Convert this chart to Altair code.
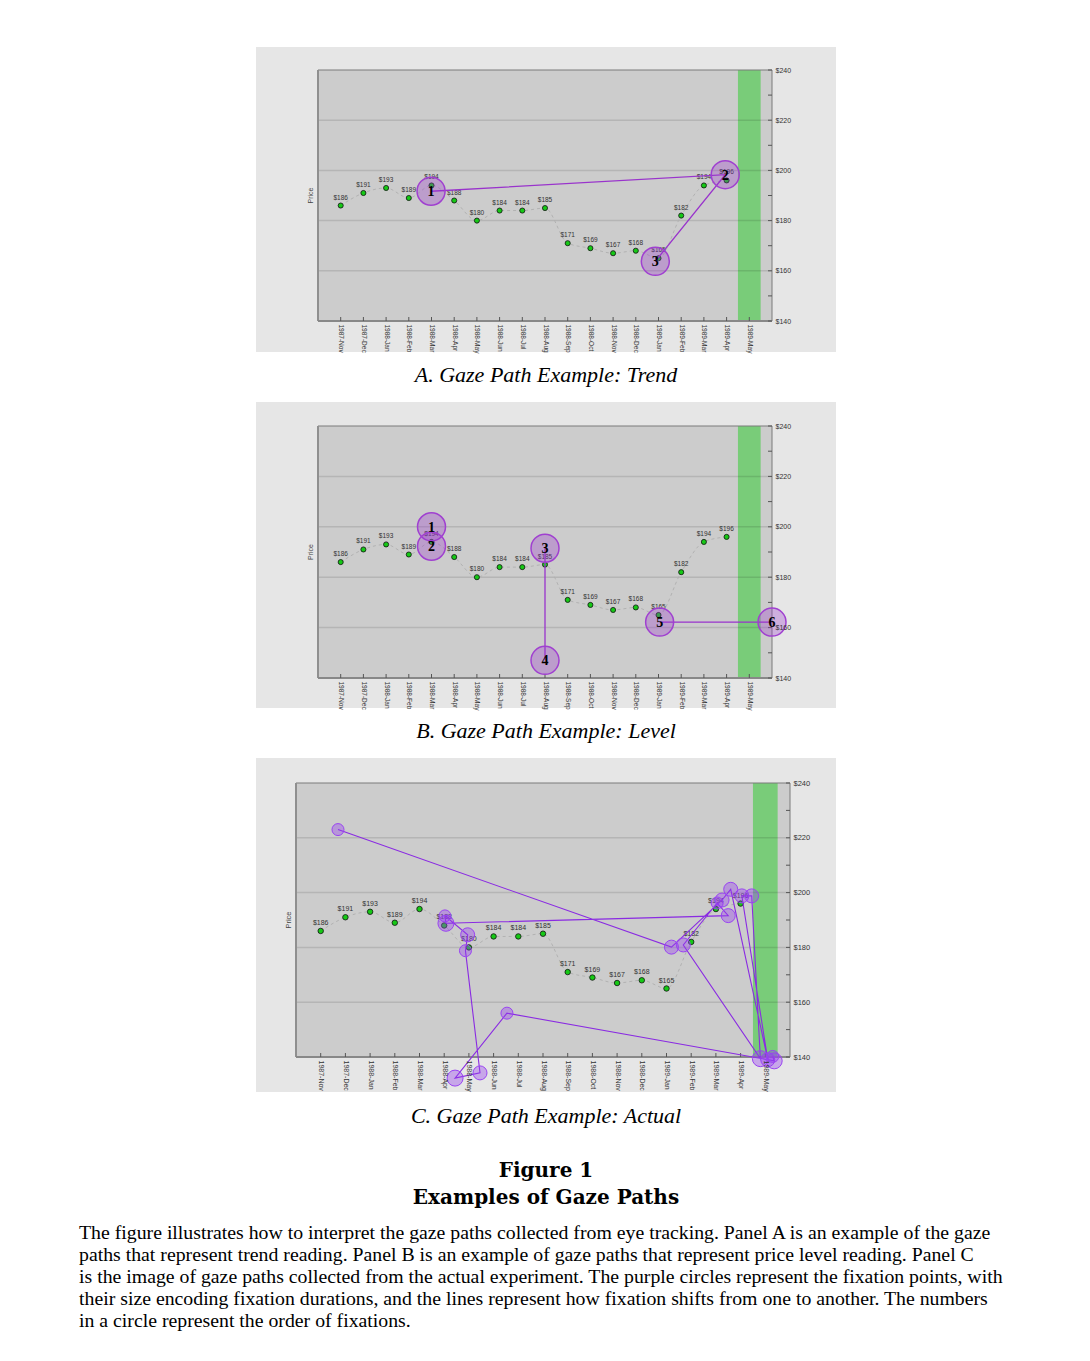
import altair as alt
import pandas as pd

# ---- price series shown in every panel ----
MONTHS = ["1987-Nov", "1987-Dec", "1988-Jan", "1988-Feb", "1988-Mar", "1988-Apr",
          "1988-May", "1988-Jun", "1988-Jul", "1988-Aug", "1988-Sep", "1988-Oct",
          "1988-Nov", "1988-Dec", "1989-Jan", "1989-Feb", "1989-Mar", "1989-Apr",
          "1989-May"]
PRICES = [186, 191, 193, 189, 194, 188, 180, 184, 184, 185, 171, 169, 167, 168,
          165, 182, 194, 196]
GRID_PRICES = [160, 180, 200, 220]
LABEL_PRICES = [140, 160, 180, 200, 220, 240]
TICK_PRICES = [140, 150, 160, 170, 180, 190, 200, 210, 220, 230, 240]
FORECAST_MONTH = 18  # 1989-May, highlighted band

# ---- fixations: month position, price level, radius (px) ----
A_X = [3.98, 16.94, 13.86]
A_Y = [191.7, 198.3, 163.8]
A_R = [14, 14, 14]
A_LINKS = [[0, 1, 2]]

B_X = [4.0, 4.0, 9.0, 9.0, 14.05, 19.0]
B_Y = [200.0, 192.3, 191.5, 147.0, 162.2, 162.2]
B_R = [14, 14, 14, 14, 14, 14]
B_LINKS = [[2, 3], [4, 5]]

C_X = [0.70, 14.20, 16.25, 16.60, 18.10, 17.05, 17.45, 17.80, 14.68, 16.05,
       16.50, 5.07, 5.03, 5.95, 5.86, 6.45, 5.44, 7.54, 18.36, 18.30]
C_Y = [223.0, 180.1, 197.3, 201.2, 139.0, 198.8, 198.8, 139.4, 180.9, 196.2,
       191.6, 188.8, 191.5, 184.6, 178.8, 134.2, 132.3, 156.0, 138.6, 140.2]
C_R = [6, 7, 7, 7, 7, 7, 7, 8, 7, 6, 7, 8, 6, 7, 6, 7, 8, 6, 8, 6]
C_LINKS = [list(range(len(C_X)))]

CAPTION_A = "A. Gaze Path Example: Trend"
CAPTION_B = "B. Gaze Path Example: Level"
CAPTION_C = "C. Gaze Path Example: Actual"
FIG_NUMBER = "Figure 1"
FIG_TITLE = "Examples of Gaze Paths"
FIG_NOTE = [
    "The figure illustrates how to interpret the gaze paths collected from eye tracking. Panel A is an example of the gaze",
    "paths that represent trend reading. Panel B is an example of gaze paths that represent price level reading. Panel C",
    "is the image of gaze paths collected from the actual experiment. The purple circles represent the fixation points, with",
    "their size encoding fixation durations, and the lines represent how fixation shifts from one to another. The numbers",
    "in a circle represent the order of fixations.",
]

W = 1090
SANS = "Liberation Sans"
SERIF = "Liberation Serif"
month_expr = "[" + ",".join("'%s'" % m for m in MONTHS) + "][datum.value]"


def text_layer(txt, x, y, **kw):
    return alt.Chart(pd.DataFrame({"t": [txt]})).mark_text(**kw).encode(
        x=alt.value(x), y=alt.value(y), text="t:N")


def panel(block_h, gray_top, gray_bot, left, right, top, bottom,
          fx, fy, fr, links, circ, numbered, label_size, axis_size,
          point_size, extra):
    step = (right - left) / 20.0
    ppd = (bottom - top) / 100.0
    xs = alt.Scale(domain=[-1 - left / step, 19 + (W - right) / step],
                   nice=False, zero=False)
    ys = alt.Scale(domain=[140 - (block_h - bottom) / ppd, 240 + top / ppd],
                   nice=False, zero=False)
    x_axis = alt.Axis(orient="bottom", offset=-(block_h - bottom),
                      values=list(range(len(MONTHS))), labelExpr=month_expr,
                      labelAngle=90, labelAlign="left", labelBaseline="middle",
                      labelPadding=3, labelFontSize=axis_size - 0.5,
                      labelFont=SANS, labelColor="#333", labelOverlap=False,
                      ticks=False, domain=False, grid=False, title=None, zindex=1)
    y_axis = alt.Axis(orient="right", offset=-(W - right), values=LABEL_PRICES,
                      labelExpr="'$' + datum.value", labelPadding=3,
                      labelFontSize=axis_size, labelFont=SANS, labelColor="#333",
                      labelOverlap=False, ticks=False, domain=False, grid=False,
                      title=None, zindex=1)

    def X(f):
        return alt.X(f, type="quantitative", scale=xs, axis=x_axis)

    def Y(f):
        return alt.Y(f, type="quantitative", scale=ys, axis=y_axis)

    one = pd.DataFrame({"k": [0]})
    frame = pd.DataFrame({"x0": [-1], "x1": [19], "y0": [140], "y1": [240]})
    band = pd.DataFrame({"b0": [FORECAST_MONTH - 0.5], "b1": [FORECAST_MONTH + 0.5],
                         "y0": [140], "y1": [240]})
    grid = pd.DataFrame({"g": GRID_PRICES, "x0": -1, "x1": 19})
    xt = pd.DataFrame({"i": list(range(len(MONTHS))), "b": 140})
    yt = pd.DataFrame({"v": TICK_PRICES, "r": 19})
    series = pd.DataFrame({"i": list(range(len(PRICES))), "p": PRICES,
                           "lab": ["$%d" % p for p in PRICES]})
    fix = pd.DataFrame({"fx": fx, "fy": fy, "s": [4 * r * r for r in fr],
                        "n": [str(k + 1) for k in range(len(fx))]})
    seg_rows = []
    for sid, chain in enumerate(links):
        for order, idx in enumerate(chain):
            seg_rows.append({"seg": sid, "o": order, "lx": fx[idx], "ly": fy[idx]})
    segs = pd.DataFrame(seg_rows)

    layers = [
        alt.Chart(one).mark_rect(color="#e6e6e6").encode(
            x=alt.value(256), x2=alt.value(836),
            y=alt.value(gray_top), y2=alt.value(gray_bot)),
        alt.Chart(frame).mark_rect(color="#cccccc").encode(
            x=X("x0"), x2="x1", y=Y("y0"), y2="y1"),
        alt.Chart(band).mark_rect(color="#79cc79").encode(
            x=X("b0"), x2="b1", y=Y("y0"), y2="y1"),
        alt.Chart(grid).mark_rule(color="#000000", opacity=0.11, strokeWidth=1.5).encode(
            x=X("x0"), x2="x1", y=Y("g")),
        alt.Chart(frame).mark_rect(fillOpacity=0, stroke="#7a7a7a", strokeWidth=1).encode(
            x=X("x0"), x2="x1", y=Y("y0"), y2="y1"),
        alt.Chart(frame).mark_rule(color="#8f8f8f", strokeWidth=2).encode(
            x=X("x0"), y=Y("y0"), y2="y1"),
        alt.Chart(frame).mark_rule(color="#888888", strokeWidth=2).encode(
            x=X("x0"), x2="x1", y=Y("y0")),
        alt.Chart(xt).mark_rule(color="#555555", strokeWidth=1, y2Offset=-4).encode(
            x=X("i"), y=Y("b"), y2="b"),
        alt.Chart(yt).mark_rule(color="#555555", strokeWidth=1, x2Offset=-4).encode(
            x=X("r"), x2="r", y=Y("v")),
        alt.Chart(series).mark_line(color="#b2b2b2", strokeWidth=1, strokeDash=[3, 3],
                                    interpolate="monotone").encode(x=X("i"), y=Y("p")),
        alt.Chart(series).mark_circle(size=point_size, color="#16c816", stroke="#111111",
                                      strokeWidth=0.8, opacity=1).encode(x=X("i"), y=Y("p")),
        alt.Chart(series).mark_text(dy=-8, fontSize=label_size, font=SANS,
                                    color="#333333").encode(x=X("i"), y=Y("p"), text="lab:N"),
        alt.Chart(segs).mark_line(color=circ["line"], strokeWidth=circ["lw"]).encode(
            x=X("lx"), y=Y("ly"), detail="seg:N", order="o:Q"),
        alt.Chart(fix).mark_circle(fill=circ["fill"], fillOpacity=circ["fo"],
                                   stroke=circ["stroke"], strokeWidth=circ["sw"],
                                   opacity=1).encode(
            x=X("fx"), y=Y("fy"), size=alt.Size("s:Q", scale=None)),
    ]
    if numbered:
        layers.append(alt.Chart(fix).mark_text(font=SERIF, fontWeight="bold",
                                               fontSize=14, color="black", dy=1).encode(
            x=X("fx"), y=Y("fy"), text="n:N"))
    layers.append(text_layer("Price", left - 7, (top + bottom) / 2, angle=270,
                             fontSize=axis_size, font=SANS, color="#444444"))
    layers.extend(extra)
    return alt.layer(*layers).properties(width=W, height=block_h)


style_ab = {"fill": "#9933cc", "fo": 0.3, "stroke": "#a040d0", "sw": 1.5,
            "line": "#9933cc", "lw": 1.3}
style_c = {"fill": "#9640f0", "fo": 0.38, "stroke": "#9a44f2", "sw": 1,
           "line": "#8a2be2", "lw": 1.1}

cap_kw = dict(font=SERIF, fontStyle="italic", fontSize=22, color="black",
              align="center", baseline="middle")
head_kw = dict(font="DejaVu Serif", fontWeight="bold", fontSize=20, color="black",
               align="center", baseline="middle")

panel_a = panel(402, 47, 352, 318, 772, 70, 321, A_X, A_Y, A_R, A_LINKS, style_ab,
                True, 6.5, 7, 26, [text_layer(CAPTION_A, 546, 375, **cap_kw)])
panel_b = panel(356, 0, 306, 318, 772, 24, 276, B_X, B_Y, B_R, B_LINKS, style_ab,
                True, 6.5, 7, 26, [text_layer(CAPTION_B, 546, 329, **cap_kw)])
panel_c = panel(603, 0, 334, 296, 790, 25, 299, C_X, C_Y, C_R, C_LINKS, style_c,
                False, 7, 7.5, 30, [
                    text_layer(CAPTION_C, 546, 358, **cap_kw),
                    text_layer(FIG_NUMBER, 546, 413, **head_kw),
                    text_layer(FIG_TITLE, 546, 440, **head_kw),
                    alt.Chart(pd.DataFrame({"k": [0]})).mark_text(
                        font=SERIF, fontSize=19.8, color="black", align="left",
                        baseline="top", lineHeight=22).encode(
                        x=alt.value(79), y=alt.value(465), text=alt.value(FIG_NOTE)),
                ])

chart = alt.vconcat(panel_a, panel_b, panel_c, spacing=0, bounds="flush").properties(
    padding=0, background="white"
).configure_view(strokeWidth=0)

chart.save("out.html", embed_options={"renderer": "svg", "actions": False})
